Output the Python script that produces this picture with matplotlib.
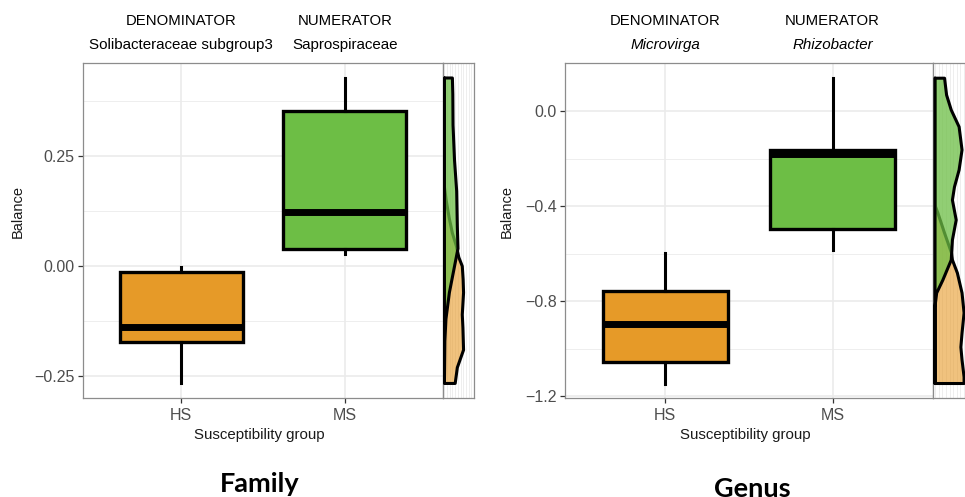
import matplotlib
matplotlib.use("Agg")
import matplotlib.pyplot as plt
import matplotlib.transforms as mtransforms
import numpy as np

plt.rcParams['font.family'] = ['Liberation Sans', 'DejaVu Sans']

# ---- data ----
groups = ["HS", "MS"]
box_colors = ["#E69A28", "#6DBE45"]

# Family panel: whisker low, q1, median, q3, whisker high
fam_whislo = [-0.266, 0.027]
fam_q1 = [-0.173, 0.039]
fam_med = [-0.138, 0.123]
fam_q3 = [-0.013, 0.351]
fam_whishi = [-0.002, 0.427]

# Genus panel
gen_whislo = [-1.147, -0.585]
gen_q1 = [-1.056, -0.498]
gen_med = [-0.897, -0.181]
gen_q3 = [-0.758, -0.163]
gen_whishi = [-0.597, 0.138]

# marginal densities (balance value, relative density)
fam_ms_y = [0.427, 0.39, 0.32, 0.24, 0.17, 0.09, 0.04, 0.0, -0.06, -0.12, -0.17, -0.266]
fam_ms_d = [0.37, 0.39, 0.40, 0.47, 0.57, 0.60, 0.63, 0.47, 0.23, 0.07, 0.02, 0.0]
fam_hs_y = [0.427, 0.18, 0.15, 0.11, 0.075, 0.045, 0.02, 0.0, -0.03, -0.06, -0.11, -0.14, -0.19, -0.23, -0.266]
fam_hs_d = [0.0, 0.0, 0.08, 0.22, 0.37, 0.56, 0.67, 0.83, 0.87, 0.89, 0.83, 0.86, 0.89, 0.60, 0.50]

gen_ms_y = [0.138, 0.067, 0.004, -0.067, -0.164, -0.248, -0.32, -0.375, -0.459, -0.543, -0.627, -0.712, -0.766, -0.825, -1.147]
gen_ms_d = [0.33, 0.40, 0.56, 0.83, 0.93, 0.83, 0.67, 0.60, 0.73, 0.60, 0.56, 0.27, 0.06, 0.0, 0.0]
gen_hs_y = [0.138, -0.396, -0.429, -0.514, -0.598, -0.627, -0.682, -0.766, -0.85, -0.935, -0.994, -1.048, -1.12, -1.147]
gen_hs_d = [0.0, 0.0, 0.10, 0.33, 0.57, 0.60, 0.77, 0.93, 1.0, 0.93, 0.89, 0.93, 1.0, 1.0]

panels = [
    dict(name="Family", den="Solibacteraceae subgroup3", num="Saprospiraceae", italic=False,
         stats=(fam_whislo, fam_q1, fam_med, fam_q3, fam_whishi),
         dens=((fam_hs_y, fam_hs_d), (fam_ms_y, fam_ms_d)),
         ylim=(-0.299, 0.461), major=[-0.25, 0.0, 0.25], minor=[-0.125, 0.125, 0.375],
         ticklabels=["\u22120.25", "0.00", "0.25"]),
    dict(name="Genus", den="Microvirga", num="Rhizobacter", italic=True,
         stats=(gen_whislo, gen_q1, gen_med, gen_q3, gen_whishi),
         dens=((gen_hs_y, gen_hs_d), (gen_ms_y, gen_ms_d)),
         ylim=(-1.208, 0.202), major=[-1.2, -0.8, -0.4, 0.0], minor=[-1.0, -0.6, -0.2],
         ticklabels=["\u22121.2", "\u22120.8", "\u22120.4", "0.0"]),
]

W, H = 965, 497
fig = plt.figure(figsize=(W / 100, H / 100), dpi=100)

# pixel boxes: main axes (x0, x1), density axes (x0, x1)
layout = [dict(main=(83, 443), dens=(443, 474), ylab=25, title_x=260, title_base=491.5),
          dict(main=(565, 933), dens=(933, 975), ylab=514, title_x=752, title_base=497)]
top_px, bot_px = 63, 398
grid_c = "#EBEBEB"
spine_c = "#8C8C8C"

def frac(x0, x1):
    return [x0 / W, 1 - bot_px / H, (x1 - x0) / W, (bot_px - top_px) / H]

for p, lay in zip(panels, layout):
    ax = fig.add_axes(frac(*lay["main"]))
    dax = fig.add_axes(frac(*lay["dens"]), sharey=ax)

    stats = []
    for i in range(2):
        stats.append(dict(whislo=p["stats"][0][i], q1=p["stats"][1][i], med=p["stats"][2][i],
                          q3=p["stats"][3][i], whishi=p["stats"][4][i], fliers=[]))
    bp = ax.bxp(stats, positions=[1, 2], widths=0.75, patch_artist=True, showcaps=False,
                showfliers=False,
                boxprops=dict(edgecolor="black", linewidth=2.4),
                medianprops=dict(color="black", linewidth=5, solid_capstyle="butt"),
                whiskerprops=dict(color="black", linewidth=2.2))
    for patch, c in zip(bp["boxes"], box_colors):
        patch.set_facecolor(c)
    for art in bp["boxes"] + bp["medians"] + bp["whiskers"]:
        art.set_zorder(3)

    ax.set_xlim(0.4, 2.6)
    ax.set_ylim(*p["ylim"])
    ax.set_xticks([1, 2])
    ax.set_xticklabels(groups)
    ax.set_yticks(p["major"])
    ax.set_yticklabels(p["ticklabels"])
    ax.set_yticks(p["minor"], minor=True)
    ax.tick_params(axis="both", which="major", length=3.5, width=0.9, color="#333333",
                   labelcolor="#4D4D4D", labelsize=11.5, pad=2.5)
    ax.tick_params(axis="x", pad=4)
    ax.tick_params(which="minor", length=0)
    ax.grid(True, which="major", color=grid_c, linewidth=1.2, zorder=0)
    ax.grid(True, which="minor", axis="y", color=grid_c, linewidth=0.6, zorder=0)
    ax.set_axisbelow(True)
    for s in ax.spines.values():
        s.set_color(spine_c)
        s.set_linewidth(0.9)

    ax.set_ylabel("Balance", fontsize=10.5, color="#1A1A1A")
    ax.yaxis.set_label_coords((lay["ylab"] - lay["main"][0]) / (lay["main"][1] - lay["main"][0]),
                              (bot_px - 211) / (bot_px - top_px))
    ax.set_xlabel("Susceptibility group", fontsize=10.8, color="#1A1A1A")
    ax.xaxis.set_label_coords(0.49, (bot_px - 428) / (bot_px - top_px))

    trans = mtransforms.blended_transform_factory(ax.transData, ax.transAxes)
    y_head = (bot_px - 21) / (bot_px - top_px)
    y_name = (bot_px - 45) / (bot_px - top_px)
    style = "italic" if p["italic"] else "normal"
    ax.text(1, y_head, "DENOMINATOR", transform=trans, ha="center", va="center", fontsize=10.7)
    ax.text(2, y_head, "NUMERATOR", transform=trans, ha="center", va="center", fontsize=10.7)
    ax.text(1, y_name, p["den"], transform=trans, ha="center", va="center", fontsize=10.9,
            style=style)
    ax.text(2, y_name, p["num"], transform=trans, ha="center", va="center", fontsize=10.9,
            style=style)

    # marginal density panel
    (hy, hd), (my, md) = p["dens"]
    dax.fill_betweenx(hy, 0, hd, facecolor="#E69A28", alpha=0.6, edgecolor="none", zorder=2)
    dax.fill(np.r_[0, hd, 0], np.r_[hy[0], hy, hy[-1]], facecolor="none", edgecolor="black",
             linewidth=2.2, zorder=2, joinstyle="round")
    dax.fill_betweenx(my, 0, md, facecolor="#6DBE45", alpha=0.75, edgecolor="none", zorder=3)
    dax.fill(np.r_[0, md, 0], np.r_[my[0], my, my[-1]], facecolor="none", edgecolor="black",
             linewidth=2.2, zorder=4, joinstyle="round")
    dx0, dx1 = lay["dens"]
    dax.set_xlim(-2 / 30, (dx1 - dx0 - 2) / 30)
    dax.set_xticks(np.arange(0, 1.5, 0.25))
    dax.set_xticks(np.arange(0.125, 1.5, 0.25), minor=True)
    dax.grid(True, which="both", axis="x", color=grid_c, linewidth=0.6, zorder=0)
    dax.set_axisbelow(True)
    dax.tick_params(which="both", length=0, labelbottom=False, labelleft=False)
    for s in dax.spines.values():
        s.set_color(spine_c)
        s.set_linewidth(0.9)

    fig.text(lay["title_x"] / W, 1 - lay["title_base"] / H, p["name"], ha="center",
             va="baseline", fontsize=19.5, fontweight="bold", family=["Lato", "DejaVu Sans"])

fig.savefig("out.png", dpi=100, facecolor="white")
